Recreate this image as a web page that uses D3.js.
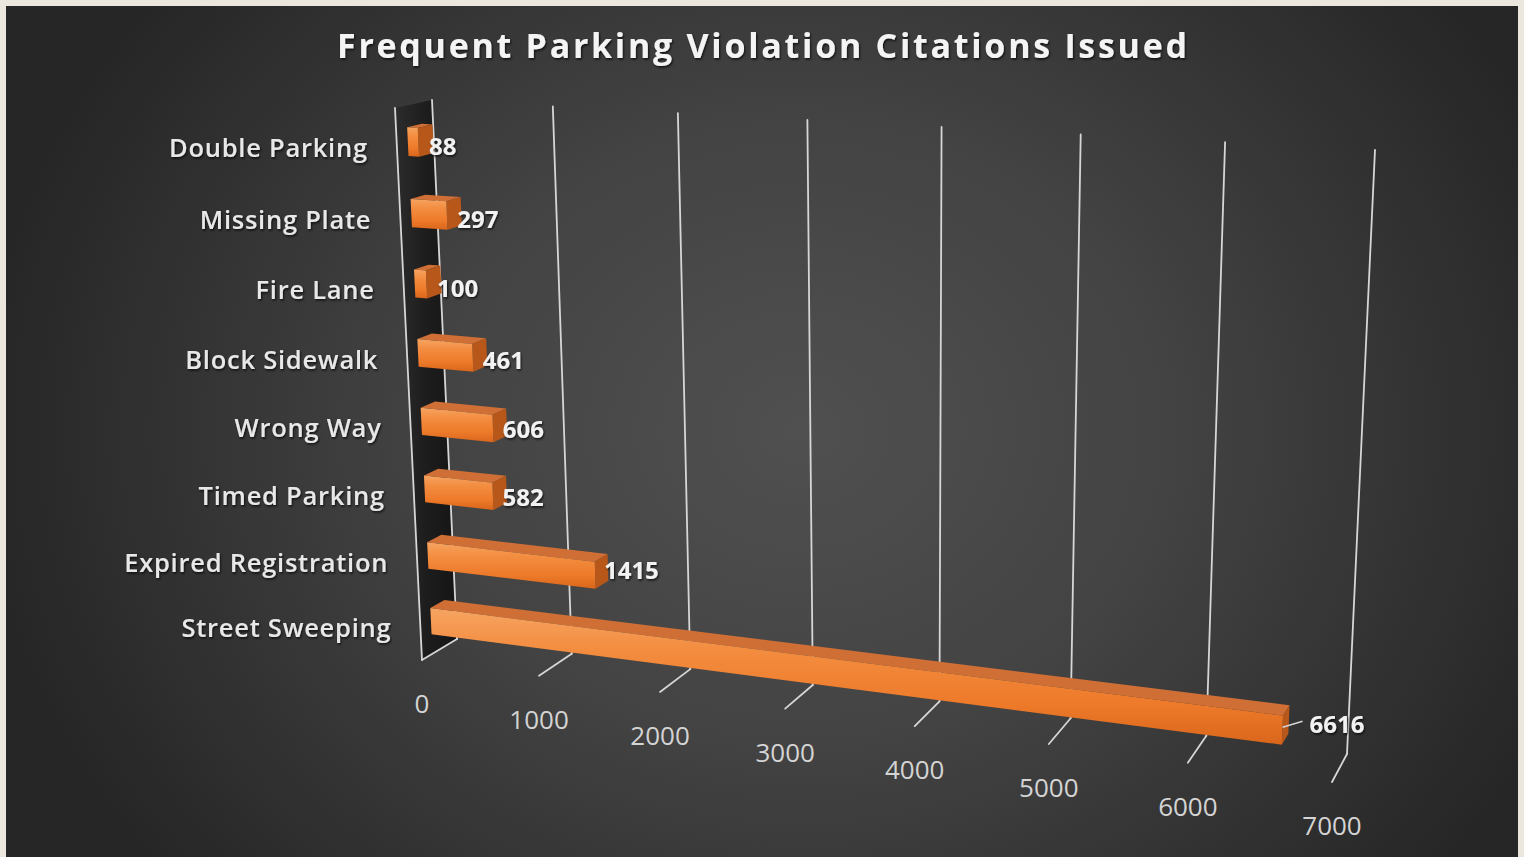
<!DOCTYPE html>
<html><head><meta charset="utf-8">
<script src="https://cdn.jsdelivr.net/npm/d3@7"></script>
<style>html,body{margin:0;padding:0;background:#ebe6de;overflow:hidden}svg{display:block}</style>
</head><body>
<svg id="chart" width="1524" height="857"></svg>
<script>
// ---------- data ----------
const chartTitle = "Frequent Parking Violation Citations Issued";
const categories = ["Double Parking","Missing Plate","Fire Lane","Block Sidewalk","Wrong Way","Timed Parking","Expired Registration","Street Sweeping"];
const values = [88, 297, 100, 461, 606, 582, 1415, 6616];
const tickValues = [0, 1000, 2000, 3000, 4000, 5000, 6000, 7000];
const tickLabels = ["0","1000","2000","3000","4000","5000","6000","7000"];

// ---------- layout ----------
const W = 1524, H = 857;
const svg = d3.select("#chart");
const defs = svg.append("defs");

// perspective: back wall (z=0) and front plane (z=1) quads [TL, TR, BR, BL]
const backQuad  = [[432,100],[1375,150],[1347,754],[457,639]];
const frontQuad = [[395,108],[1361,162],[1332,782],[422,660]];

function squareToQuad(p){
  const [x0,y0]=p[0],[x1,y1]=p[1],[x2,y2]=p[2],[x3,y3]=p[3];
  const dx1=x1-x2, dx2=x3-x2, dx3=x0-x1+x2-x3;
  const dy1=y1-y2, dy2=y3-y2, dy3=y0-y1+y2-y3;
  const den=dx1*dy2-dx2*dy1;
  const g=(dx3*dy2-dx2*dy3)/den, h=(dx1*dy3-dx3*dy1)/den;
  const a=x1-x0+g*x1, b=x3-x0+h*x3, c=x0, d=y1-y0+g*y1, e=y3-y0+h*y3, f=y0;
  return (u,v)=>{const w=g*u+h*v+1;return [(a*u+b*v+c)/w,(d*u+e*v+f)/w];};
}
const Hb = squareToQuad(backQuad), Hf = squareToQuad(frontQuad);
function proj(u,v,z){const b=Hb(u,v),f=Hf(u,v);return [b[0]+(f[0]-b[0])*z,b[1]+(f[1]-b[1])*z];}

const x = d3.scaleLinear().domain([0,7000]).range([0,1]);
const y = d3.scaleBand().domain(categories).range([0,1]).paddingInner(0.6).paddingOuter(0.3);
const zBack = 0.3, zFront = 0.7;

// ---------- background ----------
const bg = defs.append("radialGradient").attr("id","bg").attr("gradientUnits","userSpaceOnUse")
  .attr("cx",800).attr("cy",430).attr("r",820)
  .attr("gradientTransform","translate(800 430) scale(1 0.85) translate(-800 -430)");
bg.append("stop").attr("offset",0).attr("stop-color","#505050");
bg.append("stop").attr("offset",0.45).attr("stop-color","#434343");
bg.append("stop").attr("offset",1).attr("stop-color","#262626");
svg.append("rect").attr("width",W).attr("height",H).attr("fill","#ebe6de");
svg.append("rect").attr("x",6).attr("y",6).attr("width",1512).attr("height",H-6).attr("fill","url(#bg)");

const shadow = defs.append("filter").attr("id","ts").attr("x","-10%").attr("y","-30%").attr("width","120%").attr("height","160%");
shadow.append("feDropShadow").attr("dx",1).attr("dy",1.5).attr("stdDeviation",1.2).attr("flood-color","#000").attr("flood-opacity",0.75);

const fg = defs.append("linearGradient").attr("id","front").attr("x1",0).attr("y1",0).attr("x2",0).attr("y2",1);
[[0,"#f6a462"],[0.3,"#f38d40"],[0.7,"#ee7a2a"],[1,"#d9661b"]].forEach(s=>fg.append("stop").attr("offset",s[0]).attr("stop-color",s[1]));
const sw = defs.append("linearGradient").attr("id","side").attr("x1",0).attr("y1",0).attr("x2",1).attr("y2",0);
[[0,"#2c2c2c"],[0.5,"#1d1d1d"],[1,"#151515"]].forEach(s=>sw.append("stop").attr("offset",s[0]).attr("stop-color",s[1]));

const line = d3.line();
const poly = pts => line(pts) + "Z";

// ---------- title ----------
svg.append("text").attr("x",762).attr("y",58).attr("text-anchor","middle")
  .attr("font-family","'Open Sans', sans-serif").attr("font-weight",700).attr("font-size",34)
  .attr("textLength",850).attr("lengthAdjust","spacing")
  .attr("fill","#f4f4f4").attr("filter","url(#ts)").text(chartTitle);

// ---------- side wall ----------
svg.append("path").attr("d",poly([proj(0,0,0),proj(0,1,0),proj(0,1,1),proj(0,0,1)])).attr("fill","url(#side)");

// ---------- gridlines on back wall + floor ----------
const grid = svg.append("g").attr("stroke","#d6d6d6").attr("stroke-width",1.8).attr("fill","none").attr("stroke-linecap","round");
grid.selectAll("path.wall").data(tickValues).join("path").attr("class","wall")
  .attr("d",t=>line([proj(x(t),0,0),proj(x(t),1,0)]));
grid.selectAll("path.floor").data(tickValues).join("path").attr("class","floor")
  .attr("d",t=>line([proj(x(t),1,0),proj(x(t),1,1)]));
grid.append("path").attr("d",line([proj(0,0,1),proj(0,1,1)]));

// ---------- bars ----------
const bars = svg.append("g").selectAll("g").data(categories.map((c,i)=>({c,v:values[i]}))).join("g");
bars.each(function(d){
  const g = d3.select(this);
  const u = x(d.v), v0 = y(d.c), v1 = y(d.c)+y.bandwidth();
  g.append("path").attr("d",poly([proj(0,v0,zBack),proj(u,v0,zBack),proj(u,v0,zFront),proj(0,v0,zFront)])).attr("fill","#cf6f35");
  g.append("path").attr("d",poly([proj(u,v0,zBack),proj(u,v0,zFront),proj(u,v1,zFront),proj(u,v1,zBack)])).attr("fill","#b8571a");
  g.append("path").attr("d",poly([proj(0,v0,zFront),proj(u,v0,zFront),proj(u,v1,zFront),proj(0,v1,zFront)])).attr("fill","url(#front)");
});

// ---------- data labels ----------
const maxV = d3.max(values);
const dl = svg.append("g").attr("font-family","'Open Sans', sans-serif").attr("font-weight",700).attr("font-size",24).attr("fill","#f2f2f2");
categories.forEach((c,i)=>{
  const u = x(values[i]), vm = y(c)+y.bandwidth()/2;
  const endPt = proj(u, vm, zBack);
  const fr = proj(u, vm, zFront), fl = proj(0, vm, zFront);
  let lx = endPt[0] - 4, ly = (fr[1] + fl[1]) / 2 + 5;
  if (values[i] === maxV) {
    const s = proj(u, vm+0.004, (zBack+zFront)/2);
    svg.append("path").attr("d",line([[s[0]-3,s[1]],[s[0]+17,s[1]-6]])).attr("stroke","#d6d6d6").attr("stroke-width",1.5);
    lx = s[0] + 24; ly = s[1] - 3;
  }
  dl.append("text").attr("x",lx).attr("y",ly).attr("dy","0.35em").attr("filter","url(#ts)").text(values[i]);
});

// ---------- category labels ----------
svg.append("g").attr("font-family","'Open Sans', sans-serif").attr("font-weight",600).attr("font-size",25.5)
  .attr("letter-spacing",0.75).attr("fill","#e8e8e8").attr("text-anchor","end")
  .selectAll("text").data(categories).join("text")
  .attr("x",c=>proj(0,y(c)+y.bandwidth()/2,1)[0]-29)
  .attr("y",c=>proj(0,y(c)+y.bandwidth()/2,1)[1]+4 - 3*(y(c)))
  .attr("dy","0.35em").attr("filter","url(#ts)").text(c=>c);

// ---------- value axis labels ----------
svg.append("g").attr("font-family","'Open Sans', sans-serif").attr("font-weight",400).attr("font-size",26)
  .attr("fill","#d4d4d4").attr("text-anchor","middle")
  .selectAll("text").data(tickValues).join("text")
  .attr("x",t=>proj(x(t),1,1)[0])
  .attr("y",t=>proj(x(t),1,1)[1]+44)
  .attr("dy","0.35em").text((t,i)=>tickLabels[i]);
</script>
</body></html>
